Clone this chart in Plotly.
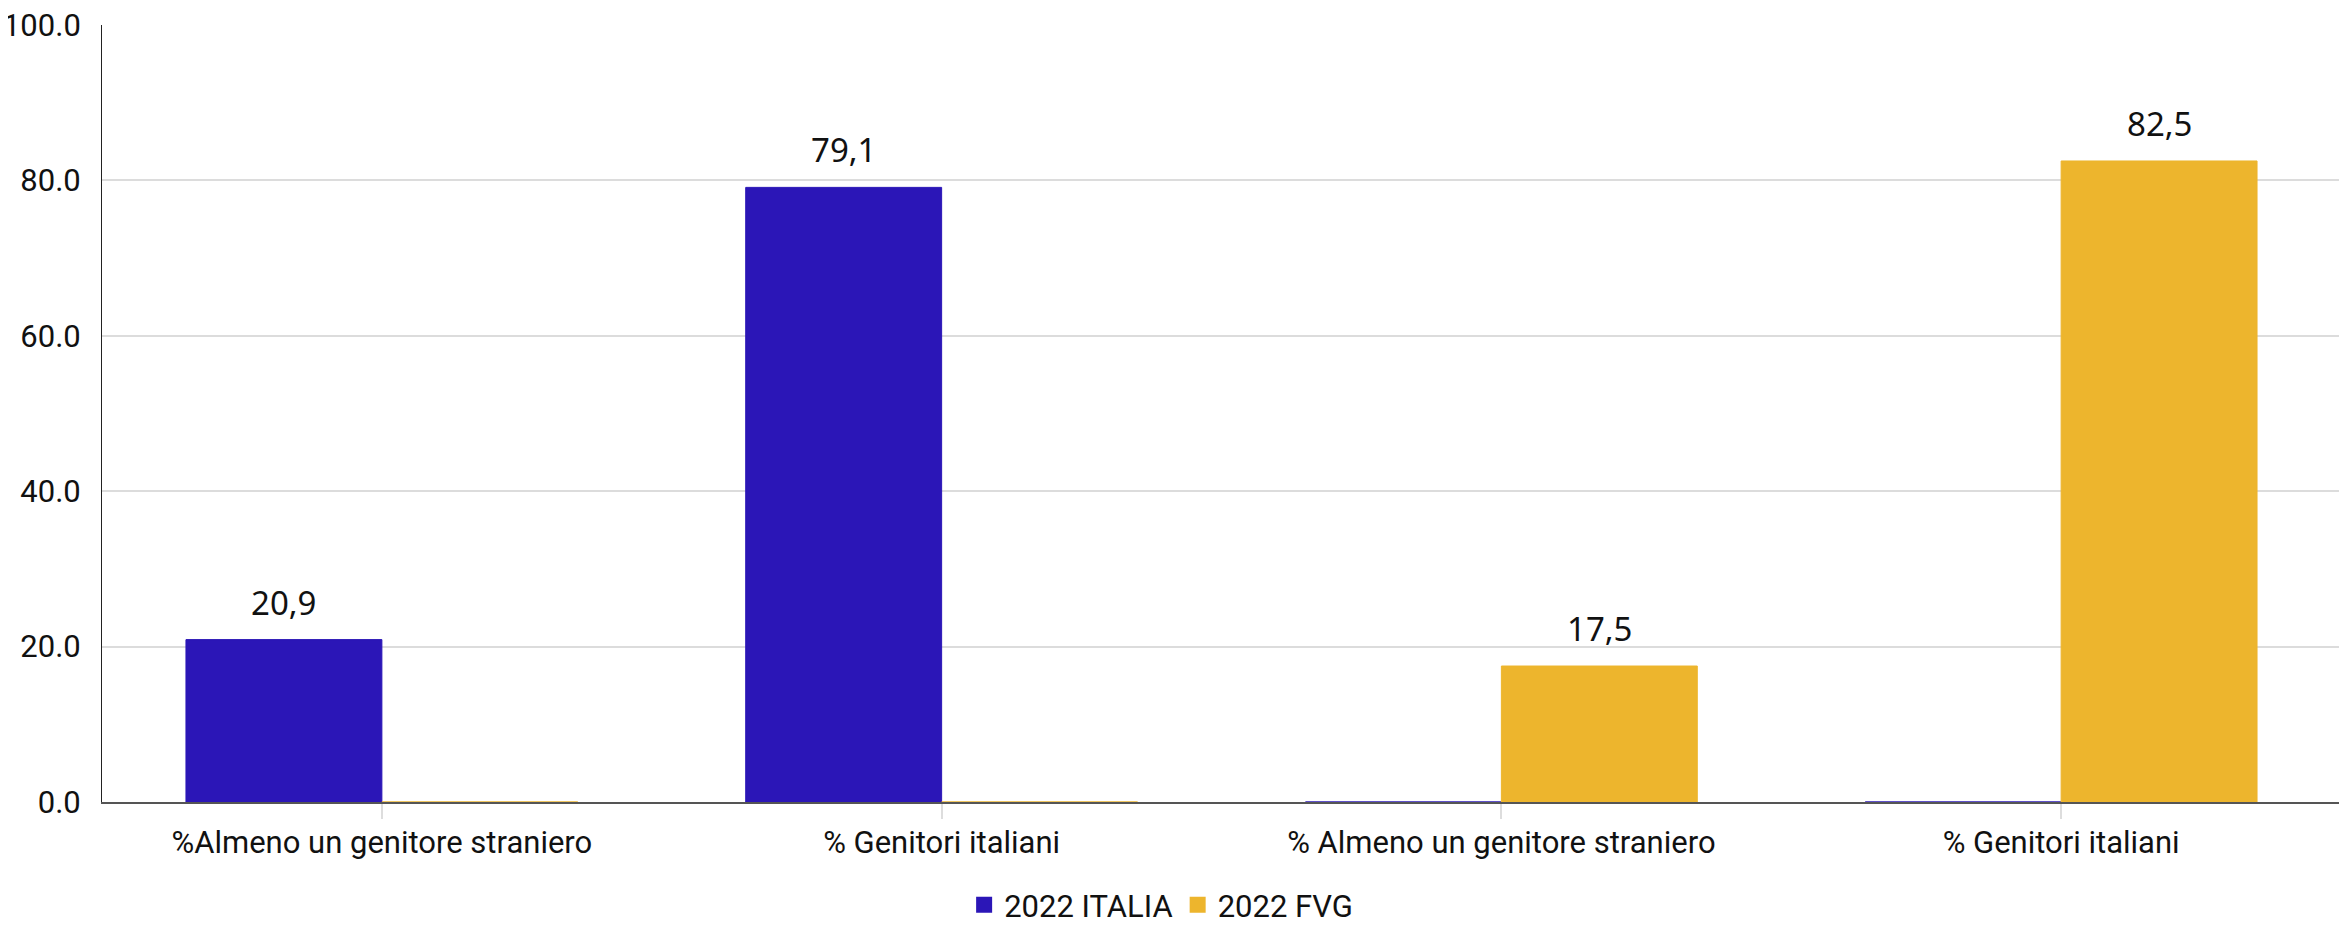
import plotly.graph_objects as go

categories = ["%Almeno un genitore straniero", "% Genitori italiani",
              "% Almeno un genitore straniero", "% Genitori italiani"]
series_names = ["2022 ITALIA", "2022 FVG"]
italia = [20.9, 79.1, 0, 0]
fvg = [0, 0, 17.5, 82.5]
colors = ["#2B16B7", "#EDB52D"]
y_ticks = [0, 20, 40, 60, 80, 100]

bargap = 0.3
values_list = [italia, fvg]
n = len(values_list)
bw = (1 - bargap) / n
xs = list(range(len(categories)))

fig = go.Figure()
for k, (name, vals, col) in enumerate(zip(series_names, values_list, colors)):
    fig.add_trace(go.Bar(
        x=xs, y=vals, name=name, showlegend=False,
        marker=dict(color=col, line=dict(color=col, width=1)),
        hoverinfo="y",
    ))
    offs = -(1 - bargap) / 2 + bw * (k + 0.5)
    for xi, v in zip(xs, vals):
        if v:
            fig.add_annotation(
                x=xi + offs, y=v, xref="x", yref="y",
                text=f"{v:.1f}".replace(".", ","),
                showarrow=False, yanchor="bottom", yshift=13,
                font=dict(family="Noto Sans", size=33, color="#111"),
            )

# legend entries (larger square swatches)
for name, col in zip(series_names, colors):
    fig.add_trace(go.Scatter(
        x=[None], y=[None], mode="markers", name=name,
        marker=dict(symbol="square", size=22, color=col),
        showlegend=True, hoverinfo="skip",
    ))

fig.update_layout(
    width=2339, height=924,
    barmode="group", bargap=bargap, bargroupgap=0,
    plot_bgcolor="white", paper_bgcolor="white",
    margin=dict(l=94, r=6, t=17, b=130, autoexpand=False),
    font=dict(family="Roboto", size=31, color="#111"),
    legend=dict(orientation="h", xref="container", x=0.493, xanchor="center",
                yref="container", y=-0.008, yanchor="bottom",
                font=dict(family="Roboto", size=31, color="#111"),
                itemwidth=30, traceorder="normal"),
    showlegend=True,
)
fig.update_xaxes(
    tickmode="array", tickvals=xs, ticktext=categories,
    range=[-0.5, len(categories) - 0.5],
    showgrid=False, showline=True, linecolor="#555", linewidth=2,
    ticks="outside", ticklen=15, tickcolor="#ddd", tickwidth=2,
    tickfont=dict(family="Roboto", size=31, color="#111"),
    ticklabelstandoff=-3,
    zeroline=False, automargin=False,
)
fig.update_xaxes(tickson="boundaries")
fig.update_yaxes(
    range=[0, 100], tickvals=y_ticks, tickformat=".1f",
    showgrid=True, gridcolor="#dcdcdc", gridwidth=2,
    showline=True, linecolor="#222", linewidth=1,
    ticks="outside", ticklen=14, tickcolor="rgba(0,0,0,0)",
    tickfont=dict(family="Roboto", size=31, color="#111"),
    ticklabeloverflow="allow",
    zeroline=False, automargin=False,
)

fig.write_html("out.html")
